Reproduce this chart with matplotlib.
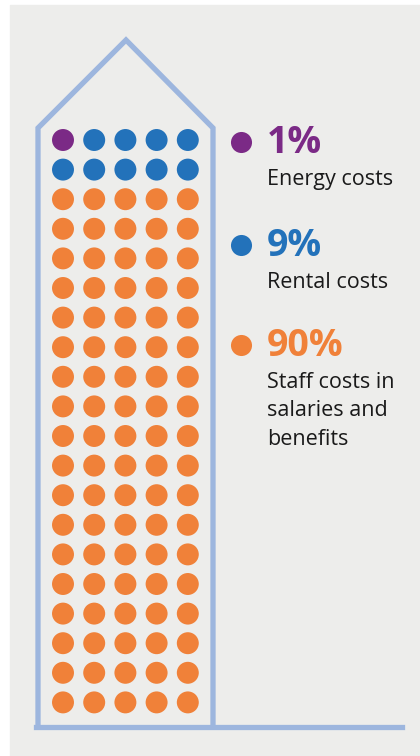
import numpy as np
import matplotlib.pyplot as plt
from matplotlib.patches import Rectangle

# Cost breakdown (percent of total)
categories = ['Energy costs', 'Rental costs', 'Staff costs in\nsalaries and\nbenefits']
percents = [1, 9, 90]
colors = ['#7b2a86', '#2372ba', '#f08139']

n_cols = 5
n_rows = 20

fig = plt.figure(figsize=(4.2, 7.56), dpi=100)
ax = fig.add_axes([0, 0, 1, 1])
ax.set_xlim(0, 420)
ax.set_ylim(756, 0)
ax.axis('off')

# grey panel
ax.add_patch(Rectangle((10, 5), 410, 751, color='#ededeb', zorder=0))

# house outline
outline = '#9db6de'
ax.plot([38, 38, 126, 213, 213], [727, 128, 40, 128, 727], color=outline, lw=3.8,
        solid_joinstyle='miter', zorder=1)
ax.plot([36, 402], [727, 727], color=outline, lw=3.8, zorder=1)

# waffle dots, filled row by row from the top
dot_colors = np.repeat(colors, percents)
idx = np.arange(len(dot_colors))
xs = 63 + (idx % n_cols) * 31.2
ys = 140 + (idx // n_cols) * 29.6
ax.scatter(xs, ys, s=250, c=dot_colors, linewidths=0, zorder=2)

# legend on the right
legend_y = [142, 245, 345]
for label, pct, col, y in zip(categories, percents, colors, legend_y):
    ax.scatter([241], [y], s=230, c=col, linewidths=0, zorder=2)
    ax.text(267, y + 11, f'{pct}%', color=col, fontsize=27, fontweight='bold',
            family='Open Sans', va='baseline', ha='left')
    for k, line in enumerate(label.split('\n')):
        ax.text(267, y + 43 + k * 28.5, line, color='#1a1a1a', fontsize=15.5,
                family='Open Sans', va='baseline', ha='left')

fig.savefig('out.png', dpi=100)
